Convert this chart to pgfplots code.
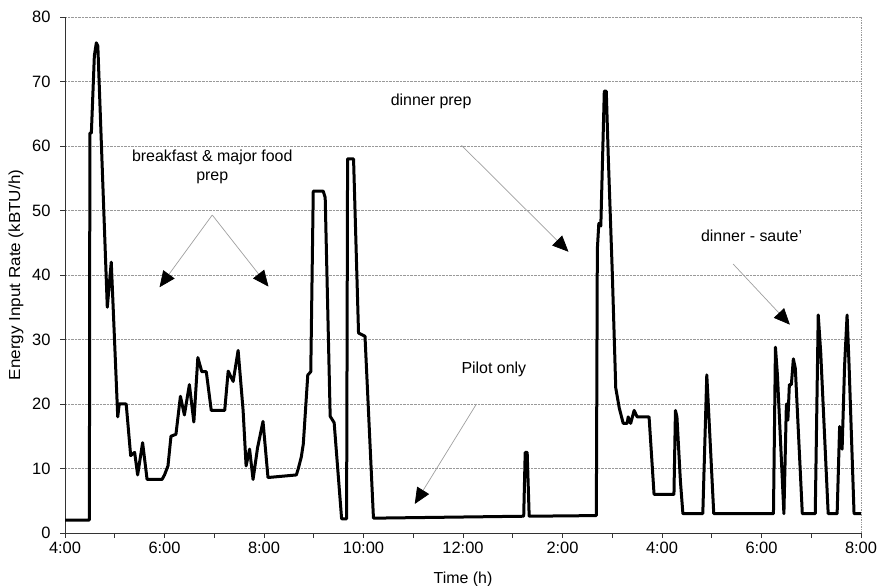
\documentclass[border=0pt]{standalone}
\usepackage{fontspec}
\setmainfont{Liberation Sans}
\usepackage{graphicx}
\usepackage{pgfplots}
\pgfplotsset{compat=1.18}
\usetikzlibrary{arrows.meta}
\begin{document}
\begin{tikzpicture}[x=1bp,y=1bp]
\useasboundingbox (0,0) rectangle (887,586);
\begin{axis}[
  at={(65bp,53bp)}, anchor=south west,
  width=796bp, height=516bp, scale only axis,
  xmin=4, xmax=20, ymin=0, ymax=80,
  axis x line*=bottom, axis y line*=left,
  xtick={4,5,...,20},
  xticklabels={4:00,,6:00,,8:00,,10:00,,12:00,,2:00,,4:00,,6:00,,8:00},
  ytick={0,10,...,80},
  ymajorgrids, grid style={gray!80, densely dotted, line width=0.7bp},
  tick align=outside, major tick length=5bp,
  tick style={black!80, line width=0.6bp},
  axis line style={black!80, line width=0.9bp},
  ticklabel style={font=\fontsize{16.5}{19}\selectfont},
  yticklabel style={xshift=-6bp},
  xticklabel style={yshift=-1bp},
  /pgf/number format/assume math mode=true,
  xlabel={Time (h)},
  ylabel={\scalebox{1.07}[1]{Energy Input Rate (kBTU/h)}},
  label style={font=\fontsize{16}{19}\selectfont},
  xlabel style={yshift=-11bp},
  ylabel style={yshift=2bp},
  clip=false,
]
\draw[gray!80, densely dotted, line width=0.7bp] (rel axis cs:1,0) -- (rel axis cs:1,1);
\addplot[black, line width=3bp, line join=round, mark=none] coordinates {
(4.00,2) (4.49,2) (4.50,62) (4.53,62) (4.59,74) (4.63,76) (4.66,75.5)
(4.85,35) (4.93,42) (5.06,18) (5.09,20) (5.23,20) (5.32,12) (5.40,12.5)
(5.46,9) (5.56,14) (5.65,8.3) (5.95,8.3) (6.00,9) (6.07,10.4) (6.13,15)
(6.23,15.3) (6.32,21.2) (6.40,18.3) (6.50,23) (6.59,17.2) (6.67,27.2)
(6.75,25) (6.84,25) (6.94,19) (7.21,19) (7.28,25.1) (7.38,23.5) (7.48,28.3)
(7.58,19) (7.64,10.4) (7.71,13) (7.78,8.3) (7.87,13.2) (7.98,17.3)
(8.08,8.6) (8.65,9) (8.69,10) (8.75,11.8) (8.79,13.8) (8.88,24.5)
(8.94,25) (8.99,53) (9.19,53) (9.23,52) (9.33,18.1) (9.41,17.1)
(9.56,2.2) (9.66,2.2) (9.68,58) (9.80,58) (9.90,31) (10.03,30.5)
(10.20,2.3) (13.22,2.6) (13.25,12.5) (13.29,12.5) (13.33,2.6)
(14.68,2.7) (14.70,44) (14.73,48) (14.77,47.6) (14.84,68.5) (14.88,68.5)
(14.92,58.3) (15.00,40.5) (15.07,22.5) (15.14,19.4) (15.22,17) (15.30,17)
(15.32,18) (15.37,17) (15.44,19) (15.50,18) (15.74,18) (15.84,6)
(16.24,6) (16.27,19) (16.30,18) (16.37,8) (16.42,3) (16.82,3)
(16.90,24.5) (16.93,20) (17.04,3) (18.24,3) (18.28,28.8) (18.32,24.5)
(18.45,3) (18.50,20) (18.53,17.5) (18.56,23) (18.60,23) (18.64,27)
(18.68,25.5) (18.82,3) (19.08,3) (19.14,33.8) (19.19,28) (19.34,3)
(19.52,3) (19.57,16.5) (19.62,13) (19.67,26) (19.72,33.8) (19.76,26)
(19.86,3) (20.00,3)
};
\node[font=\fontsize{16}{19}\selectfont, align=center] at (axis cs:6.96,56.75) {breakfast \& major food\\prep};
\node[font=\fontsize{16}{19}\selectfont] at (axis cs:11.36,66.9) {dinner prep};
\node[font=\fontsize{16}{19}\selectfont] at (axis cs:17.8,46) {dinner - saute'};
\node[font=\fontsize{16}{19}\selectfont] at (axis cs:12.62,25.3) {Pilot only};
\tikzset{annarrow/.style={gray!75, line width=0.7bp, -{Triangle[length=16bp,width=14bp,color=black]}}}
\draw[annarrow] (axis cs:6.96,49.3) -- (axis cs:5.90,38.1);
\draw[annarrow] (axis cs:6.96,49.3) -- (axis cs:8.09,38.2);
\draw[annarrow] (axis cs:11.97,60.1) -- (axis cs:14.12,43.6);
\draw[annarrow] (axis cs:17.43,41.7) -- (axis cs:18.57,32.3);
\draw[annarrow] (axis cs:12.27,20) -- (axis cs:11.03,4.5);
\end{axis}
\end{tikzpicture}
\end{document}
